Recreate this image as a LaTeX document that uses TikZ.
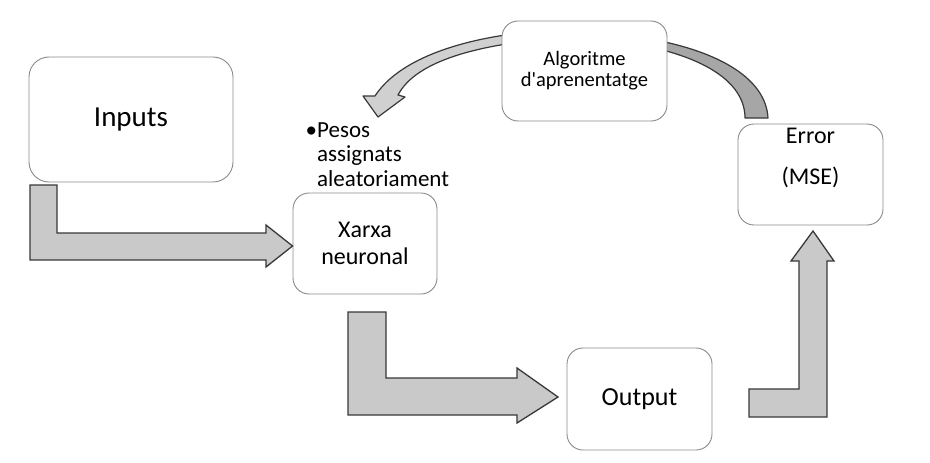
\documentclass[tikz,border=0pt]{standalone}
\usepackage{fontspec}
\setmainfont{Carlito}[Ligatures=TeXOff]
\definecolor{boxline}{HTML}{8A8A8A}
\definecolor{arrowfill}{HTML}{C9C9C9}
\definecolor{arrowline}{HTML}{383838}
\definecolor{ribbondark}{HTML}{A6A6A6}
\definecolor{ribbonlight}{HTML}{D0D0D0}
\begin{document}
\begin{tikzpicture}[x=1pt,y=-1pt,
  box/.style={draw=boxline,line width=0.9pt,fill=white,rounded corners=16pt,inner sep=0pt},
  blockarrow/.style={fill=arrowfill,draw=arrowline,line width=1.3pt,line join=miter},
  ribbon/.style={draw=arrowline,line width=1.2pt,line join=round}]
\useasboundingbox (0,0) rectangle (930,463);
% curved feedback arrow (behind the algorithm box)
\draw[ribbon,fill=ribbondark] (768,118) .. controls (766,80) and (722,52) .. (650,39)
  -- (650,47) .. controls (710,60) and (745,85) .. (745,118) -- cycle;
\draw[ribbon,fill=ribbonlight] (520,33) .. controls (445,42) and (395,65) .. (375,96)
  -- (363,96) -- (378,117) -- (405,97) -- (398,95)
  .. controls (410,72) and (445,52) .. (520,42) -- cycle;
% boxes
\node[box,minimum width=204pt,minimum height=125pt,rounded corners=20pt,
  font=\fontsize{29}{34}\selectfont] (inputs) at (131,119.5) {Inputs};
\node[box,minimum width=144pt,minimum height=101pt,align=center,
  font=\fontsize{24}{27}\selectfont] (xarxa) at (365,243.5) {Xarxa\\neuronal};
\node[box,minimum width=145pt,minimum height=102pt,
  font=\fontsize{26}{30}\selectfont] (output) at (639.5,399) {Output};
\node[box,minimum width=145pt,minimum height=101pt] (error) at (810.5,174.5) {};
\node[align=center,inner sep=0pt,font=\fontsize{24}{41}\selectfont] (errortxt)
  at (810.5,158) {Error\\(MSE)};
\node[box,minimum width=165pt,minimum height=100pt,align=center,
  font=\fontsize{20.5}{21}\selectfont] (algo) at (584.5,71) {Algoritme\\d'aprenentatge};
\node[anchor=north west,align=left,inner sep=0pt,font=\fontsize{23}{24.5}\selectfont]
  (pesos) at (317,122.5) {\llap{•}Pesos\\assignats\\aleatoriament};
% block arrows
\draw[blockarrow] (30,185) -- (57,185) -- (57,233) -- (266,233) -- (266,225)
  -- (xarxa.west |- 0,246) -- (266,267) -- (266,260) -- (30,260) -- cycle;
\draw[blockarrow] (348,312) -- (386,312) -- (386,378) -- (517,378) -- (517,368)
  -- (558,397) -- (517,423) -- (517,415) -- (348,415) -- cycle;
\draw[blockarrow] (749,417) -- (749,389) -- (799,389) -- (799,261) -- (791,261)
  -- (813,231) -- (834,261) -- (827,261) -- (827,417) -- cycle;
\end{tikzpicture}
\end{document}
